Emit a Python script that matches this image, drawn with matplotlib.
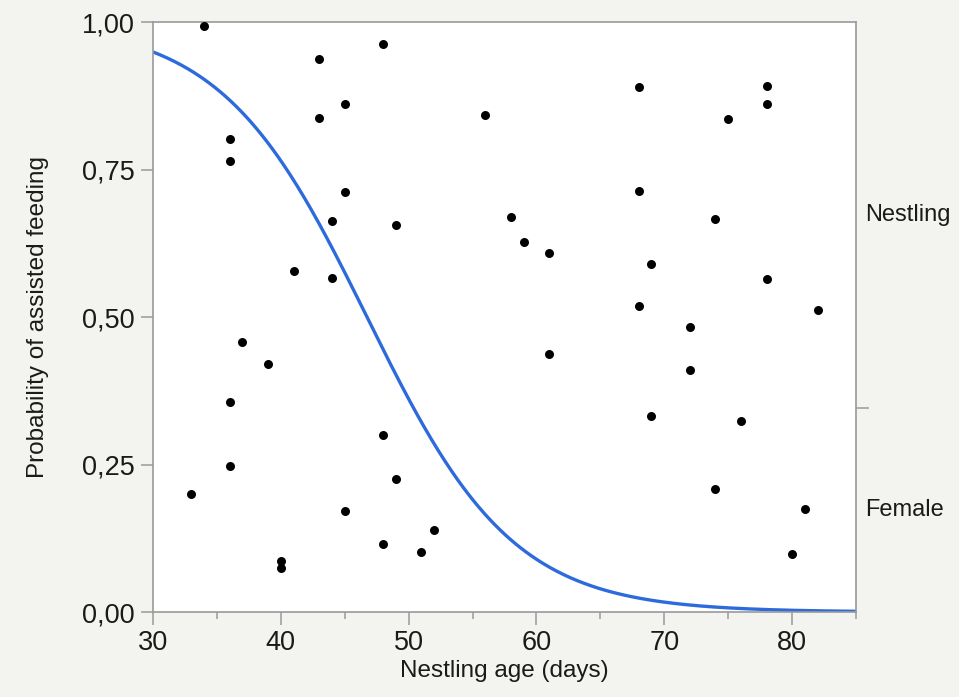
import numpy as np
import matplotlib.pyplot as plt
from matplotlib.ticker import FuncFormatter, MultipleLocator

plt.rcParams['font.family'] = ['Liberation Sans', 'DejaVu Sans']

# nestling-fed observations (upper band) - age in days, jittered position
nestling_age = [34, 43, 48, 45, 43, 36, 36, 45, 44, 49, 41, 44, 37, 39, 36,
                56, 68, 78, 78, 75, 68, 58, 74, 59, 61, 69, 78, 68, 82, 72, 61]
nestling_pos = [0.993, 0.938, 0.962, 0.861, 0.838, 0.802, 0.764, 0.712, 0.662, 0.656, 0.578, 0.566, 0.457, 0.421, 0.356,
                0.842, 0.890, 0.892, 0.861, 0.836, 0.714, 0.669, 0.666, 0.627, 0.608, 0.590, 0.565, 0.519, 0.512, 0.483, 0.437]

# female-fed observations (lower band)
female_age = [48, 36, 49, 33, 45, 52, 48, 51, 40, 40,
              72, 69, 76, 74, 81, 80]
female_pos = [0.300, 0.247, 0.225, 0.200, 0.172, 0.139, 0.116, 0.102, 0.087, 0.075,
              0.410, 0.332, 0.324, 0.209, 0.175, 0.099]

# logistic fit: P(assisted) = 1 / (1 + exp(-(b0 + b1*age)))
b0 = 8.18
b1 = -0.175
split = 0.346  # boundary between response categories

fig = plt.figure(figsize=(9.59, 6.97), dpi=100, facecolor='#f3f3ef')
ax = fig.add_axes([0.1595, 0.1219, 0.7331, 0.8465])
ax.set_facecolor('white')

age = np.linspace(30, 85, 400)
prob = 1 / (1 + np.exp(-(b0 + b1 * age)))
ax.plot(age, prob, color='#2d6bdc', lw=2.4, zorder=2)

ax.scatter(nestling_age, nestling_pos, s=42, color='black', zorder=3, linewidths=0)
ax.scatter(female_age, female_pos, s=42, color='black', zorder=3, linewidths=0)

ax.set_xlim(30, 85)
ax.set_ylim(0, 1)
ax.xaxis.set_major_locator(MultipleLocator(10))
ax.xaxis.set_minor_locator(MultipleLocator(5))
ax.yaxis.set_major_locator(MultipleLocator(0.25))
ax.yaxis.set_major_formatter(FuncFormatter(lambda v, p: f'{v:.2f}'.replace('.', ',')))

for s in ax.spines.values():
    s.set_color('#9a9a9a')
    s.set_linewidth(1.2)
ax.tick_params(which='major', length=9, width=1.1, color='#9a9a9a', labelsize=19.5,
               labelcolor='#1a1a1a', pad=4)
ax.tick_params(which='minor', length=5, width=1.1, color='#9a9a9a')

ax.set_xlabel('Nestling age (days)', fontsize=17.5, labelpad=3, color='#1a1a1a')
ax.set_ylabel('Probability of assisted feeding', fontsize=17.5, labelpad=24, color='#1a1a1a')

# right axis with response categories
ax2 = ax.twinx()
ax2.set_ylim(0, 1)
ax2.set_yticks([split])
ax2.set_yticklabels([''])
ax2.tick_params(length=9, width=1.1, color='#9a9a9a')
for s in ax2.spines.values():
    s.set_visible(False)
ax2.text(1.013, (1 + split) / 2, 'Nestling', transform=ax2.transAxes, fontsize=17,
         va='center', ha='left', color='#1a1a1a')
ax2.text(1.013, split / 2, 'Female', transform=ax2.transAxes, fontsize=17,
         va='center', ha='left', color='#1a1a1a')

fig.savefig('out.png', dpi=100, facecolor=fig.get_facecolor())
